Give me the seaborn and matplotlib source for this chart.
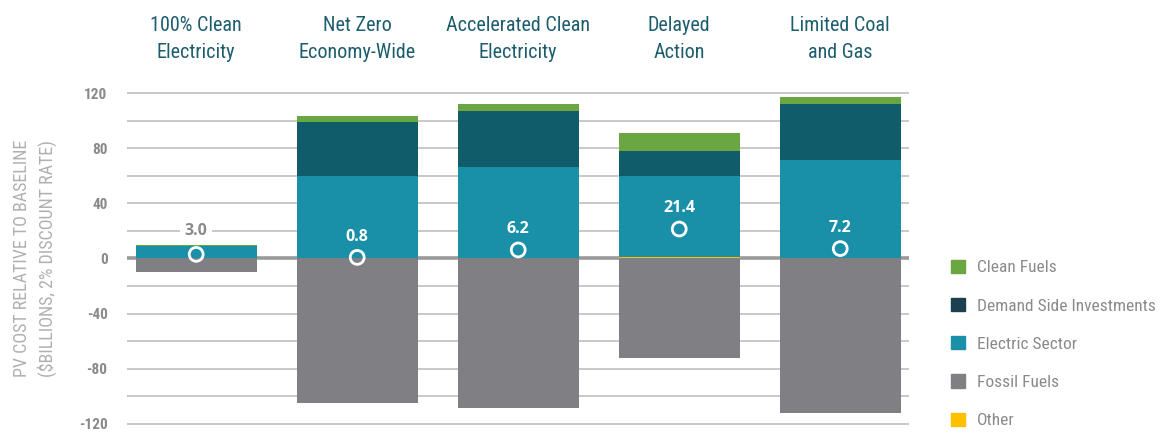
import matplotlib
matplotlib.use("Agg")
import matplotlib.pyplot as plt
import matplotlib.transforms as mtransforms
from matplotlib.patches import Patch
from matplotlib import font_manager
import seaborn as sns
import pandas as pd

scenarios = ["100% Clean\nElectricity", "Net Zero\nEconomy-Wide", "Accelerated Clean\nElectricity",
             "Delayed\nAction", "Limited Coal\nand Gas"]
other = [0.0, 0.0, 0.3, 0.8, 0.0]
electric = [9.0, 59.8, 66.5, 59.5, 71.8]
demand = [0.4, 39.5, 40.4, 18.0, 40.5]
clean_fuels = [0.3, 4.3, 5.1, 13.0, 5.0]
fossil = [-9.5, -104.8, -108.4, -72.3, -112.0]
net = [3.0, 0.8, 6.2, 21.4, 7.2]
net_labels = ["3.0", "0.8", "6.2", "21.4", "7.2"]
legend_names = ["Clean Fuels", "Demand Side Investments", "Electric Sector", "Fossil Fuels", "Other"]

colors = {
    "Clean Fuels": "#6aa641",
    "Demand Side Investments": "#115c6b",
    "Electric Sector": "#1a90a8",
    "Fossil Fuels": "#808084",
    "Other": "#ffc000",
}

# look for a narrow face, else Roboto
fonts = font_manager.fontManager.ttflist
names = {f.name for f in fonts}
stretch = "normal"
if "Roboto Condensed" in names:
    cond = "Roboto Condensed"
elif "Liberation Sans Narrow" in names:
    cond = "Liberation Sans Narrow"
elif any(f.name == "DejaVu Sans" and f.stretch == "condensed" for f in fonts):
    cond, stretch = "DejaVu Sans", "condensed"
else:
    cond = "Roboto"

sns.set_theme(style="white")
plt.rcParams["font.family"] = [cond, "DejaVu Sans"]
plt.rcParams["font.stretch"] = stretch

fig = plt.figure(figsize=(11.69, 4.38), dpi=100)
ax = fig.add_axes([0.1086, 0.0297, 0.6694, 0.7603])

df = pd.DataFrame({"scenario": scenarios})
df["c1"] = other
df["c2"] = df["c1"] + electric
df["c3"] = df["c2"] + demand
df["c4"] = df["c3"] + clean_fuels
df["fossil"] = fossil

# layered cumulative bars (top layer first)
layers = [("c4", "Clean Fuels"), ("c3", "Demand Side Investments"),
          ("c2", "Electric Sector"), ("c1", "Other"), ("fossil", "Fossil Fuels")]
for col, name in layers:
    sns.barplot(data=df, x="scenario", y=col, color=colors[name], saturation=1,
                width=0.75, errorbar=None, ax=ax, zorder=3, linewidth=0, edgecolor="none")

# gridlines + zero line
for v in range(-120, 121, 20):
    ax.axhline(v, color="#c4c4c4", lw=1.3, zorder=1)
ax.axhline(0, color="#9a9a9a", lw=2.6, zorder=2)

sns.scatterplot(x=list(range(len(net))), y=net, marker="o", s=100, facecolor="none",
                edgecolor="white", linewidth=2, ax=ax, zorder=5)

for i, (v, lab) in enumerate(zip(net, net_labels)):
    if i == 0:
        ax.annotate(lab, (i, v), xytext=(0, 17), textcoords="offset points", ha="center", va="center",
                    fontsize=11.5, fontweight="bold", color="#8a8a8a", family="Open Sans", zorder=6,
                    bbox=dict(boxstyle="square,pad=0.3", fc="white", ec="none"))
    else:
        ax.annotate(lab, (i, v), xytext=(0, 15), textcoords="offset points", ha="center", va="center",
                    fontsize=11.5, fontweight="bold", color="white", family="Open Sans", zorder=6)

ax.set_xlim(-0.43, 4.43)
ax.set_ylim(-121, 121)
ax.set_yticks(range(-120, 121, 40))
ax.set_yticklabels([str(v) for v in range(-120, 121, 40)], fontsize=11, color="#8a8a8a", fontweight="bold")
ax.tick_params(axis="y", length=0, pad=14)
ax.set_xticks([])
ax.set_xlabel("")
ax.set_ylabel("PV COST RELATIVE TO BASELINE\n($BILLIONS, 2% DISCOUNT RATE)", fontsize=13,
              color="#b0b0b0", labelpad=16, linespacing=1.4)
for s in ax.spines.values():
    s.set_visible(False)

trans = mtransforms.blended_transform_factory(ax.transData, fig.transFigure)
for i, name in enumerate(scenarios):
    ax.text(i, 1 - 39 / 438, name, transform=trans, ha="center", va="center", fontsize=14.5,
            color="#1c5d6d", linespacing=1.55)

handles = [Patch(color=colors[n]) for n in legend_names]
handles[1] = Patch(color="#1b4050")
leg = fig.legend(handles, legend_names,
                 loc="center left", bbox_to_anchor=(0.8, 1 - 344 / 438), frameon=False, fontsize=12.5,
                 handlelength=0.8, handleheight=0.8, handletextpad=0.7, labelspacing=1.3)
for t in leg.get_texts():
    t.set_color("#8a8a8a")

fig.savefig("out.png", dpi=100)
